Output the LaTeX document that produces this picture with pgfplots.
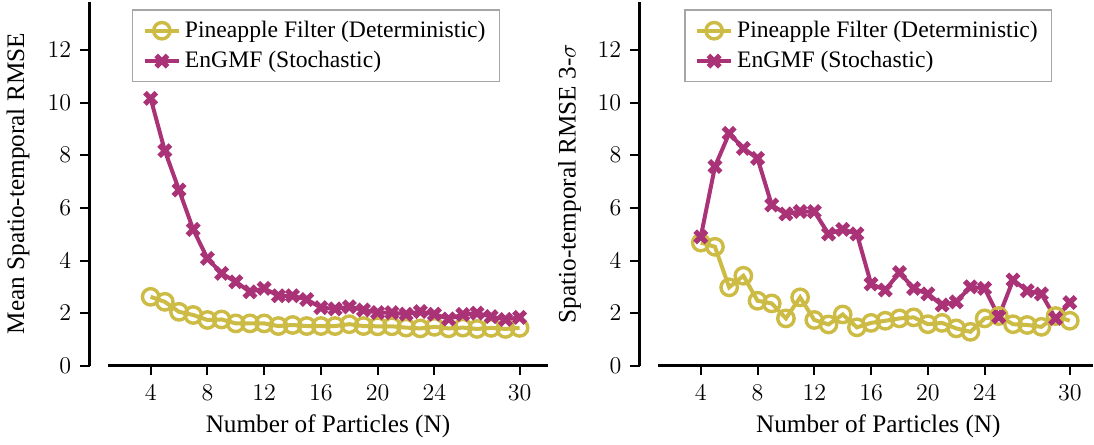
\documentclass[border=0pt]{standalone}
\usepackage{fontspec}
\setmainfont{Liberation Serif}
\usepackage{pgfplots}
\pgfplotsset{compat=1.18}
\definecolor{pfyellow}{HTML}{CCBB44}
\definecolor{gmfpurple}{HTML}{AA3377}
\newcommand{\legfont}{\fontsize{11.8}{14}\selectfont}

\pgfplotsset{
  rmse/.style={
    scale only axis, height=182pt,
    ymin=0, ymax=13.84, xmin=-0.3,
    axis x line*=bottom, axis y line*=left,
    x axis line style={draw=none},
    y axis line style={line width=1.5pt},
    tick align=outside, major tick length=4.7pt,
    every tick/.style={black, line width=1pt},
    xtick={4,8,12,16,20,24,30}, ytick={0,2,...,12},
    font=\fontsize{11.5}{13}\selectfont,
    label style={font=\fontsize{12.6}{14}\selectfont},
    yticklabel style={xshift=-1pt},
    xticklabel style={yshift=-1.5pt},
    ylabel style={anchor=center},
    xlabel={Number of Particles (N)},
    legend image post style={line width=2pt},
    clip=false,
  },
  leg/.style={legend style={at={(axis cs:#1,13.54)}, anchor=north west,
    draw=gray!70, line width=0.6pt, cells={anchor=west},
    inner xsep=5pt, inner ysep=3.5pt, row sep=1.5pt}},
  pf/.style={color=pfyellow, line width=2pt, mark=o, mark size=4.1pt,
    mark options={solid, line width=1.7pt}},
  gmf/.style={color=gmfpurple, line width=2pt, mark=x, mark size=4pt,
    mark options={solid, line width=2.6pt}},
}

\begin{document}
\begin{tikzpicture}
% left: mean RMSE
\begin{axis}[rmse, leg=2.7, width=229pt, xmax=32,
  ylabel={Mean Spatio-temporal RMSE},
  ylabel style={at={(axis description cs:-0.156,0.5)}},
  xlabel style={at={(ticklabel cs:0.52)}}]
\addplot[pf] coordinates {
  (4,2.62)(5,2.43)(6,2.05)(7,1.93)(8,1.74)(9,1.76)(10,1.61)(11,1.61)(12,1.61)
  (13,1.51)(14,1.55)(15,1.51)(16,1.51)(17,1.51)(18,1.58)(19,1.51)(20,1.50)
  (21,1.50)(22,1.45)(23,1.42)(24,1.48)(25,1.42)(26,1.45)(27,1.40)(28,1.44)
  (29,1.40)(30,1.44)};
\addplot[gmf] coordinates {
  (4,10.16)(5,8.17)(6,6.68)(7,5.18)(8,4.08)(9,3.51)(10,3.19)(11,2.81)(12,2.94)
  (13,2.66)(14,2.66)(15,2.52)(16,2.21)(17,2.16)(18,2.24)(19,2.12)(20,2.02)
  (21,2.02)(22,1.96)(23,2.06)(24,1.96)(25,1.78)(26,1.95)(27,2.00)(28,1.87)
  (29,1.76)(30,1.84)};
\legend{{\legfont Pineapple Filter (Deterministic)},{\legfont EnGMF (Stochastic)}}
\draw[line width=1.5pt] (axis cs:1,0) -- (axis cs:32,0);
\end{axis}
% right: RMSE 3-sigma
\begin{axis}[rmse, leg=2.85, at={(274.85pt,0)}, width=226.2pt, xmax=31.6,
  ylabel={Spatio-temporal RMSE 3-$\sigma$},
  ylabel style={at={(axis description cs:-0.155,0.5)}},
  xlabel style={at={(ticklabel cs:0.527)}}]
\addplot[pf] coordinates {
  (4,4.68)(5,4.52)(6,2.98)(7,3.42)(8,2.47)(9,2.37)(10,1.80)(11,2.60)(12,1.74)
  (13,1.57)(14,1.95)(15,1.46)(16,1.63)(17,1.71)(18,1.80)(19,1.84)(20,1.58)
  (21,1.63)(22,1.42)(23,1.29)(24,1.80)(25,1.89)(26,1.58)(27,1.55)(28,1.48)
  (29,1.89)(30,1.71)};
\addplot[gmf] coordinates {
  (4,4.90)(5,7.57)(6,8.83)(7,8.26)(8,7.88)(9,6.11)(10,5.77)(11,5.86)(12,5.86)
  (13,5.01)(14,5.18)(15,5.01)(16,3.11)(17,2.88)(18,3.54)(19,2.94)(20,2.73)
  (21,2.31)(22,2.43)(23,3.00)(24,2.94)(25,1.86)(26,3.26)(27,2.85)(28,2.73)
  (29,1.80)(30,2.40)};
\legend{{\legfont Pineapple Filter (Deterministic)},{\legfont EnGMF (Stochastic)}}
\draw[line width=1.5pt] (axis cs:1,0) -- (axis cs:31.6,0);
\end{axis}
\end{tikzpicture}
\end{document}
